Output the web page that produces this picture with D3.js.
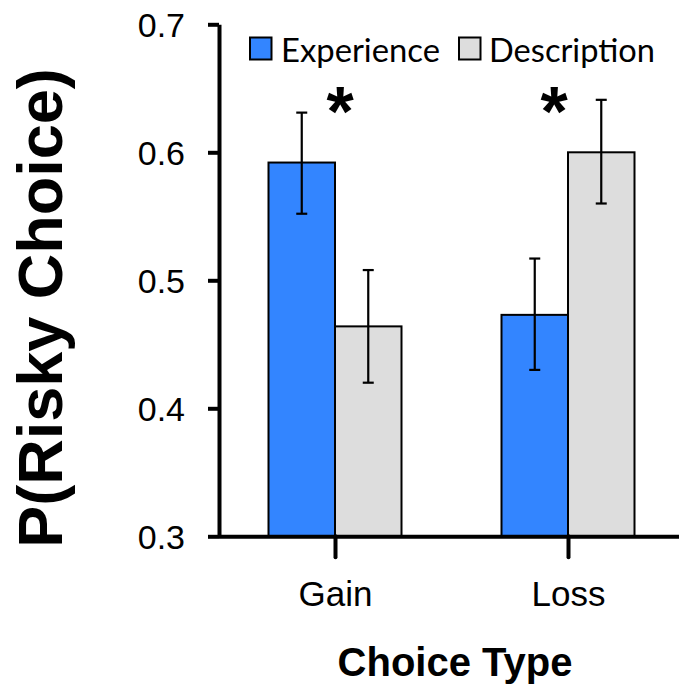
<!DOCTYPE html>
<html>
<head>
<meta charset="utf-8">
<script src="https://cdn.jsdelivr.net/npm/d3@7/dist/d3.min.js"></script>
<style>
  html, body { margin: 0; padding: 0; background: #fff; }
  svg { display: block; }
</style>
</head>
<body>
<script>
// ---- data ----
const categories = ["Gain", "Loss"];
const series = ["Experience", "Description"];
const experienceValues = [0.592, 0.473];
const descriptionValues = [0.464, 0.600];
const experienceErrLow = [0.552, 0.430];
const experienceErrHigh = [0.631, 0.517];
const descriptionErrLow = [0.420, 0.560];
const descriptionErrHigh = [0.508, 0.641];
const yTicks = [0.3, 0.4, 0.5, 0.6, 0.7];
const significance = ["*", "*"];
const yTitle = "P(Risky Choice)";
const xTitle = "Choice Type";

const colors = { Experience: "#3385ff", Description: "#dddddd" };

const W = 679, H = 685;
const svg = d3.select("body").append("svg").attr("width", W).attr("height", H);

const y = d3.scaleLinear().domain([0.3, 0.7]).range([536.3, 24.3]);
const x0 = d3.scalePoint().domain(categories).range([218.5, 684.5]).padding(0.5);
const x1 = d3.scaleBand().domain(series).range([-66.5, 66.5]);

const rows = [];
categories.forEach((c, i) => {
  rows.push({ cat: c, s: "Experience", v: experienceValues[i], lo: experienceErrLow[i], hi: experienceErrHigh[i] });
  rows.push({ cat: c, s: "Description", v: descriptionValues[i], lo: descriptionErrLow[i], hi: descriptionErrHigh[i] });
});

// bars
svg.append("g").selectAll("rect").data(rows).join("rect")
  .attr("x", d => x0(d.cat) + x1(d.s))
  .attr("y", d => y(d.v))
  .attr("width", x1.bandwidth())
  .attr("height", d => y(0.3) - y(d.v))
  .attr("fill", d => colors[d.s])
  .attr("stroke", "#000")
  .attr("stroke-width", 2);

// error bars
const eg = svg.append("g").attr("stroke", "#000").attr("stroke-width", 2.2);
rows.forEach(d => {
  const cx = x0(d.cat) + x1(d.s) + x1.bandwidth() / 2;
  eg.append("line").attr("x1", cx).attr("x2", cx).attr("y1", y(d.hi)).attr("y2", y(d.lo));
  eg.append("line").attr("x1", cx - 5.5).attr("x2", cx + 5.5).attr("y1", y(d.hi)).attr("y2", y(d.hi));
  eg.append("line").attr("x1", cx - 5.5).attr("x2", cx + 5.5).attr("y1", y(d.lo)).attr("y2", y(d.lo));
});

// y axis
const yAxis = svg.append("g").attr("transform", "translate(219,0)")
  .call(d3.axisLeft(y).tickValues(yTicks).tickFormat(d3.format(".1f")).tickSize(11).tickSizeOuter(0).tickPadding(23));
yAxis.select(".domain").attr("stroke", "#000").attr("stroke-width", 4);
yAxis.selectAll(".tick line").attr("stroke", "#000").attr("stroke-width", 4);
yAxis.selectAll(".tick text").attr("font-family", "Liberation Sans, Arial, sans-serif").attr("font-size", 34).attr("fill", "#000").attr("dy", "0.36em");

// x axis
const xAxis = svg.append("g").attr("transform", "translate(0,536.3)")
  .call(d3.axisBottom(x0).tickSize(21).tickSizeOuter(0).tickPadding(24));
xAxis.select(".domain").attr("stroke", "#000").attr("stroke-width", 4);
xAxis.selectAll(".tick line").attr("stroke", "#000").attr("stroke-width", 4).attr("stroke-linecap", "round");
xAxis.selectAll(".tick text").attr("font-family", "Liberation Sans, Arial, sans-serif").attr("font-size", 35).attr("fill", "#000");

// significance stars
const starOffsets = [5, -14];
svg.append("g").selectAll("text").data(significance).join("text")
  .attr("x", (d, i) => x0(categories[i]) + starOffsets[i])
  .attr("y", 136)
  .attr("text-anchor", "middle")
  .attr("font-family", "Liberation Sans, Arial, sans-serif")
  .attr("font-weight", "bold")
  .attr("font-size", 70)
  .text(d => d);

// legend
const legendPos = [{ sq: 250, tx: 281, tl: 159 }, { sq: 459, tx: 489, tl: 166 }];
const lg = svg.append("g");
series.forEach((s, i) => {
  lg.append("rect").attr("x", legendPos[i].sq).attr("y", 37.5).attr("width", 21.5).attr("height", 22)
    .attr("fill", colors[s]).attr("stroke", "#000").attr("stroke-width", 2);
  lg.append("text").attr("x", legendPos[i].tx).attr("y", 62)
    .attr("font-family", "Lato, 'Open Sans', sans-serif").attr("font-size", 32)
    .attr("textLength", legendPos[i].tl).attr("lengthAdjust", "spacingAndGlyphs")
    .attr("fill", "#000").text(s);
});

// titles
svg.append("text").attr("transform", "translate(62,308) rotate(-90)")
  .attr("text-anchor", "middle")
  .attr("font-family", "Liberation Sans, Arial, sans-serif").attr("font-weight", "bold").attr("font-size", 63)
  .text(yTitle);
svg.append("text").attr("x", 455).attr("y", 676)
  .attr("text-anchor", "middle")
  .attr("font-family", "Liberation Sans, Arial, sans-serif").attr("font-weight", "bold").attr("font-size", 40)
  .text(xTitle);
</script>
</body>
</html>
